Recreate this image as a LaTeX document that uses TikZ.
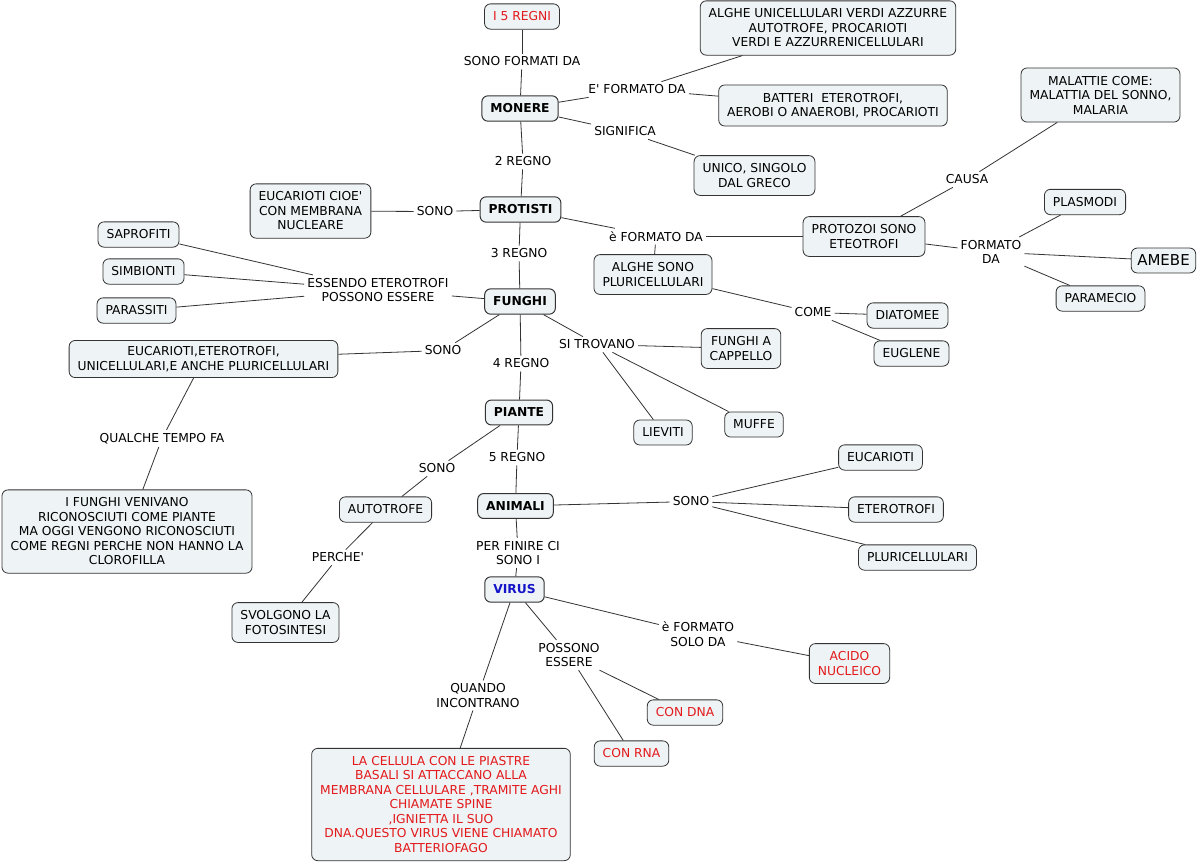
\documentclass[tikz,border=0pt]{standalone}
\usepackage{fontspec}
\setmainfont{DejaVu Sans}[Ligatures=TeXOff]
\definecolor{boxfill}{HTML}{EEF3F5}
\definecolor{boxline}{HTML}{333333}
\definecolor{redtxt}{HTML}{E3191B}
\definecolor{bluetxt}{HTML}{1414C8}
\begin{document}
\begin{tikzpicture}[x=1pt,y=-1pt,
  every node/.style={font=\fontsize{12.3}{14.5}\selectfont},
  concept/.style={draw=boxline,fill=boxfill,rounded corners=6pt,align=center,inner xsep=8.5pt,inner ysep=8pt,line width=0.8pt},
  keybox/.style={concept,font=\fontsize{12.3}{14.5}\selectfont\bfseries,line width=1pt},
  redbox/.style={concept,text=redtxt},
  link/.style={align=center,inner sep=3pt},
  conn/.style={draw=boxline,line width=0.8pt}]
\useasboundingbox (0,0) rectangle (1201,863);
\fill[white] (0,0) rectangle (1201,863);
% concepts
\node[redbox] (regni) at (522,16.5) {I 5 REGNI};
\node[concept] (alghe1) at (828,28) {ALGHE UNICELLULARI VERDI AZZURRE\\AUTOTROFE, PROCARIOTI\\VERDI E AZZURRENICELLULARI};
\node[keybox] (monere) at (520,108.5) {MONERE};
\node[concept] (batteri) at (833,105.5) {BATTERI\ \ ETEROTROFI,\\AEROBI O ANAEROBI, PROCARIOTI};
\node[concept] (unico) at (754.5,175.5) {UNICO, SINGOLO\\DAL GRECO};
\node[concept] (malattie) at (1100.5,95) {MALATTIE COME:\\MALATTIA DEL SONNO,\\MALARIA};
\node[concept] (eucacioe) at (310.5,211) {EUCARIOTI CIOE'\\CON MEMBRANA\\NUCLEARE};
\node[keybox] (protisti) at (520.5,209.5) {PROTISTI};
\node[concept] (saprofiti) at (138.5,234.5) {SAPROFITI};
\node[concept] (simbionti) at (143.5,271.5) {SIMBIONTI};
\node[concept] (parassiti) at (136.5,310.5) {PARASSITI};
\node[keybox] (funghi) at (520,301.5) {FUNGHI};
\node[concept] (protozoi) at (864,236.5) {PROTOZOI SONO\\ETEOTROFI};
\node[concept] (plasmodi) at (1085,202) {PLASMODI};
\node[concept,font=\fontsize{15}{17}\selectfont,inner xsep=6pt,inner ysep=7pt] (amebe) at (1163.5,260.5) {AMEBE};
\node[concept] (paramecio) at (1100.5,298.5) {PARAMECIO};
\node[concept] (alghe2) at (653,274.5) {ALGHE SONO\\PLURICELLULARI};
\node[concept] (diatomee) at (907.5,315.5) {DIATOMEE};
\node[concept] (euglene) at (911.5,353.5) {EUGLENE};
\node[concept,inner ysep=6pt] (eucaeter) at (203.5,359) {EUCARIOTI,ETEROTROFI,\\UNICELLULARI,E ANCHE PLURICELLULARI};
\node[concept] (cappello) at (741,348.5) {FUNGHI A\\CAPPELLO};
\node[concept] (lieviti) at (663,432.5) {LIEVITI};
\node[concept] (muffe) at (754,424.5) {MUFFE};
\node[keybox] (piante) at (519,412.5) {PIANTE};
\node[concept] (eucarioti) at (880.5,457.5) {EUCARIOTI};
\node[concept] (eterotrofi) at (896,509.5) {ETEROTROFI};
\node[concept] (pluri) at (917.5,557.5) {PLURICELLULARI};
\node[keybox] (animali) at (515.5,506) {ANIMALI};
\node[concept] (autotrofe) at (385.5,509.5) {AUTOTROFE};
\node[concept] (ifunghi) at (127,531.5) {I FUNGHI VENIVANO\\RICONOSCIUTI COME PIANTE\\MA OGGI VENGONO RICONOSCIUTI\\COME REGNI PERCHE NON HANNO LA\\CLOROFILLA};
\node[keybox,text=bluetxt] (virus) at (514.5,589.5) {VIRUS};
\node[concept] (svolgono) at (285.5,622.5) {SVOLGONO LA\\FOTOSINTESI};
\node[redbox] (acido) at (849.5,663.5) {ACIDO\\NUCLEICO};
\node[redbox] (condna) at (685,712.5) {CON DNA};
\node[redbox] (conrna) at (631.5,753.5) {CON RNA};
\node[redbox] (cellula) at (441,804.5) {LA CELLULA CON LE PIASTRE\\BASALI SI ATTACCANO ALLA\\MEMBRANA CELLULARE ,TRAMITE AGHI\\CHIAMATE SPINE\\,IGNIETTA IL SUO\\DNA.QUESTO VIRUS VIENE CHIAMATO\\BATTERIOFAGO};
% linking phrases
\node[link] (l1) at (522,61.5) {SONO FORMATI DA};
\node[link] (l2) at (637,89.5) {E' FORMATO DA};
\node[link] (l3) at (625,131.5) {SIGNIFICA};
\node[link] (l4) at (523,161.5) {2 REGNO};
\node[link] (l5) at (435,211.5) {SONO};
\node[link] (l6) at (656,236.5) {è FORMATO DA};
\node[link] (l7) at (967,179.5) {CAUSA};
\node[link] (l8) at (991,252) {FORMATO\\DA};
\node[link] (l9) at (813,312.5) {COME};
\node[link] (l10) at (519,253.5) {3 REGNO};
\node[link] (l11) at (378,290) {ESSENDO ETEROTROFI\\POSSONO ESSERE};
\node[link] (l12) at (443,350.5) {SONO};
\node[link] (l13) at (597,344.5) {SI TROVANO};
\node[link] (l14) at (521,363.5) {4 REGNO};
\node[link] (l15) at (162,438.5) {QUALCHE TEMPO FA};
\node[link] (l16) at (437,468.5) {SONO};
\node[link] (l17) at (517,457.5) {5 REGNO};
\node[link] (l18) at (691,501.5) {SONO};
\node[link] (l19) at (338,557.5) {PERCHE'};
\node[link] (l20) at (518,553) {PER FINIRE CI\\SONO I};
\node[link] (l21) at (698,634) {è FORMATO\\SOLO DA\ };
\node[link] (l22) at (569,655) {POSSONO\\ESSERE};
\node[link] (l23) at (478,695.5) {QUANDO\\INCONTRANO};
% connectors
\draw[conn] (regni) -- (l1); \draw[conn] (l1) -- (monere);
\draw[conn] (monere) -- (l2); \draw[conn] (l2) -- (alghe1); \draw[conn] (l2) -- (batteri);
\draw[conn] (monere) -- (l3); \draw[conn] (l3) -- (unico);
\draw[conn] (monere) -- (l4); \draw[conn] (l4) -- (protisti);
\draw[conn] (protisti) -- (l5); \draw[conn] (l5) -- (eucacioe);
\draw[conn] (protisti) -- (l6); \draw[conn] (l6) -- (protozoi); \draw[conn] (l6) -- (alghe2);
\draw[conn] (protozoi) -- (l7); \draw[conn] (l7) -- (malattie);
\draw[conn] (protozoi) -- (l8); \draw[conn] (l8) -- (plasmodi); \draw[conn] (l8) -- (amebe); \draw[conn] (l8) -- (paramecio);
\draw[conn] (alghe2) -- (l9); \draw[conn] (l9) -- (diatomee); \draw[conn] (l9) -- (euglene);
\draw[conn] (protisti) -- (l10); \draw[conn] (l10) -- (funghi);
\draw[conn] (funghi) -- (l11); \draw[conn] (l11) -- (saprofiti); \draw[conn] (l11) -- (simbionti); \draw[conn] (l11) -- (parassiti);
\draw[conn] (funghi) -- (l12); \draw[conn] (l12) -- (eucaeter);
\draw[conn] (funghi) -- (l13); \draw[conn] (l13) -- (cappello); \draw[conn] (l13) -- (lieviti); \draw[conn] (l13) -- (muffe);
\draw[conn] (funghi) -- (l14); \draw[conn] (l14) -- (piante);
\draw[conn] (eucaeter) -- (l15); \draw[conn] (l15) -- (ifunghi);
\draw[conn] (piante) -- (l16); \draw[conn] (l16) -- (autotrofe);
\draw[conn] (piante) -- (l17); \draw[conn] (l17) -- (animali);
\draw[conn] (animali) -- (l18); \draw[conn] (l18) -- (eucarioti); \draw[conn] (l18) -- (eterotrofi); \draw[conn] (l18) -- (pluri);
\draw[conn] (autotrofe) -- (l19); \draw[conn] (l19) -- (svolgono);
\draw[conn] (animali) -- (l20); \draw[conn] (l20) -- (virus);
\draw[conn] (virus) -- (l21); \draw[conn] (l21) -- (acido);
\draw[conn] (virus) -- (l22); \draw[conn] (l22) -- (condna); \draw[conn] (l22) -- (conrna);
\draw[conn] (virus) -- (l23); \draw[conn] (l23) -- (cellula);
\end{tikzpicture}
\end{document}
